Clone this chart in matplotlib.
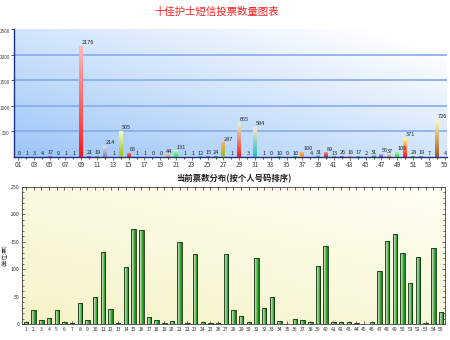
import numpy as np
import matplotlib
matplotlib.use("Agg")
import matplotlib.pyplot as plt
from matplotlib.colors import LinearSegmentedColormap

plt.rcParams['font.family'] = ['Noto Sans CJK SC', 'DejaVu Sans']

title = "十佳护士短信投票数量图表"
sub_title = "当前票数分布(按个人号码排序)"
y_label_bottom = "(单位:票)"

categories = list(range(1, 56))
top_ticklabels = ["%02d" % c for c in categories[::2]]

top_values = [0, 1, 3, 4, 17, 0, 1, 1, 2176, 21, 19, 214, 1, 505, 85, 1, 1, 0, 0, 44,
              131, 1, 1, 12, 15, 24, 287, 1, 665, 3, 584, 1, 0, 10, 0, 10, 100, 4, 31, 89,
              13, 26, 16, 17, 2, 31, 55, 37, 105, 371, 28, 19, 7, 726, 4]

bottom_values = [3, 25, 7, 11, 25, 4, 2, 39, 7, 50, 131, 27, 1, 104, 174, 172, 13, 7, 2, 5,
                 149, 2, 127, 4, 1, 1, 128, 25, 15, 3, 121, 30, 49, 5, 0, 10, 7, 3, 105, 143,
                 4, 4, 3, 1, 0, 4, 96, 151, 164, 130, 75, 122, 2, 138, 22]

# gradient colour pairs (top, bottom) for the upper chart's bars
special = {
    9: ("#ffb8b8", "#ff1818"),
    12: ("#e0e0f0", "#8080a8"),
    14: ("#f4ffc0", "#98c020"),
    15: ("#ff9090", "#d02020"),
    20: ("#ffd080", "#e08000"),
    21: ("#c8ffc8", "#20e030"),
    27: ("#ffb060", "#90c020"),
    29: ("#d8ffd0", "#ff1818"),
    31: ("#ffe8c0", "#20c0c0"),
    37: ("#ffc080", "#f08020"),
    40: ("#ff9090", "#a03030"),
    49: ("#c0ffc0", "#30d030"),
    50: ("#ffff80", "#ff1818"),
    54: ("#ffffc0", "#a05a20"),
}
cycle = [("#a0e0a0", "#208020"), ("#c0c0ff", "#4040c0"), ("#ffc0a0", "#c06020"),
         ("#a0e0e0", "#208080"), ("#e0a0e0", "#802080")]

fig = plt.figure(figsize=(4.5, 3.4), dpi=100)
fig.text(217 / 450, 1 - 12 / 340, title, color="#ff2020", fontsize=7.5,
         ha="center", va="center")

# ---------------- top chart ----------------
ax1 = fig.add_axes([14 / 450, 1 - 157 / 340, 433 / 450, 128 / 340])
ax1.set_xlim(0.49, 55.3)
ax1.set_ylim(0, 2500)
bgcm = LinearSegmentedColormap.from_list("bg", ["#9cc6f8", "#ffffff"])
gx, gy = np.meshgrid(np.linspace(0, 1, 200), np.linspace(0, 1, 200))
ax1.imshow(gx * 0.6 + gy * 0.6, cmap=bgcm, extent=[0, 1, 0, 1], transform=ax1.transAxes,
           aspect="auto", origin="lower", zorder=0, vmin=0, vmax=1.1)
for yv in [500, 1000, 1500, 2000]:
    ax1.axhline(yv, color="#88aaf0", lw=1.2, zorder=1)

bars = ax1.bar(categories, top_values, width=0.5, zorder=3, color="none", edgecolor="none")
grad = np.linspace(0, 1, 100).reshape(-1, 1)
for i, (b, v) in enumerate(zip(bars, top_values)):
    c = categories[i]
    ctop, cbot = special.get(c, cycle[i % len(cycle)])
    if v <= 0:
        continue
    cm = LinearSegmentedColormap.from_list("b%d" % c, [cbot, ctop])
    x0 = b.get_x()
    im = ax1.imshow(grad, cmap=cm, extent=[x0, x0 + b.get_width(), 0, v], origin="lower",
                    aspect="auto", zorder=3)
    im.set_clip_path(b)
for c, v in zip(categories, top_values):
    ax1.text(c + 0.1, v + 15, str(v), fontsize=4.0, ha="left" if v > 50 else "center",
             va="bottom", color="#202020", zorder=5)
ax1.set_xticks(categories[::2])
ax1.set_xticklabels(top_ticklabels, fontsize=4.8, color="#202020")
ax1.set_xticks(categories, minor=True)
ax1.set_yticks([500, 1000, 1500, 2000, 2500])
ax1.set_yticklabels(["500", "1000", "1500", "2000", "2500"], fontsize=3.3,
                    va="top", color="#202020")
ax1.tick_params(axis="x", length=2, width=0.5, pad=1, colors="#404040")
ax1.tick_params(axis="x", which="minor", length=1.5, width=0.5)
ax1.tick_params(axis="y", length=2.5, width=0.6, pad=0.5, colors="#404040")
for s in ["top", "right"]:
    ax1.spines[s].set_visible(False)
ax1.spines["left"].set_color("#203080")
ax1.spines["left"].set_linewidth(1.0)
ax1.spines["bottom"].set_color("#203080")
ax1.spines["bottom"].set_linewidth(1.0)

# ---------------- bottom chart ----------------
ax2 = fig.add_axes([22 / 450, 1 - 324 / 340, 423 / 450, 137 / 340])
ax2.set_xlim(0.48, 55.52)
ax2.set_ylim(0, 250)
bgcm2 = LinearSegmentedColormap.from_list("bg2", ["#f6f2c8", "#fffff4"])
ax2.imshow(gx * 0.5 + gy * 0.7, cmap=bgcm2, extent=[0, 1, 0, 1], transform=ax2.transAxes,
           aspect="auto", origin="lower", zorder=0, vmin=0, vmax=1.2)
bars2 = ax2.bar(categories, bottom_values, width=0.58, color="none",
                edgecolor="#103010", linewidth=0.6, zorder=4)
hgrad = np.linspace(0, 1, 100).reshape(1, -1)
gcm = LinearSegmentedColormap.from_list("gb", ["#d0d8c8", "#b8d0a8", "#30b030", "#108010"])
for b, v in zip(bars2, bottom_values):
    if v <= 0:
        continue
    x0 = b.get_x()
    im = ax2.imshow(hgrad, cmap=gcm, extent=[x0, x0 + b.get_width(), 0, v], origin="lower",
                    aspect="auto", zorder=3)
    im.set_clip_path(b)
ax2.set_xticks(categories)
ax2.set_xticklabels([str(c) for c in categories], fontsize=3.6, color="#303030")
ax2.set_yticks([0, 50, 100, 150, 200, 250])
ax2.set_yticklabels(["0", "50", "100", "150", "200", "250"], fontsize=3.8, color="#303030")
ax2.set_yticks(np.arange(0, 251, 10), minor=True)
ax2.tick_params(axis="both", which="both", direction="in", top=True, right=True,
                width=0.5, colors="#303030")
ax2.tick_params(axis="both", which="major", length=2.5, pad=2)
ax2.tick_params(axis="both", which="minor", length=1.5)
ax2.tick_params(axis="x", which="major", length=2)
for s in ax2.spines.values():
    s.set_color("#404040")
    s.set_linewidth(0.6)
ax2.set_title(sub_title, fontsize=6, pad=4, color="#202020", fontweight="bold")
ax2.set_ylabel(y_label_bottom, fontsize=4, labelpad=2, color="#303030")

fig.savefig("out.png", dpi=100)
